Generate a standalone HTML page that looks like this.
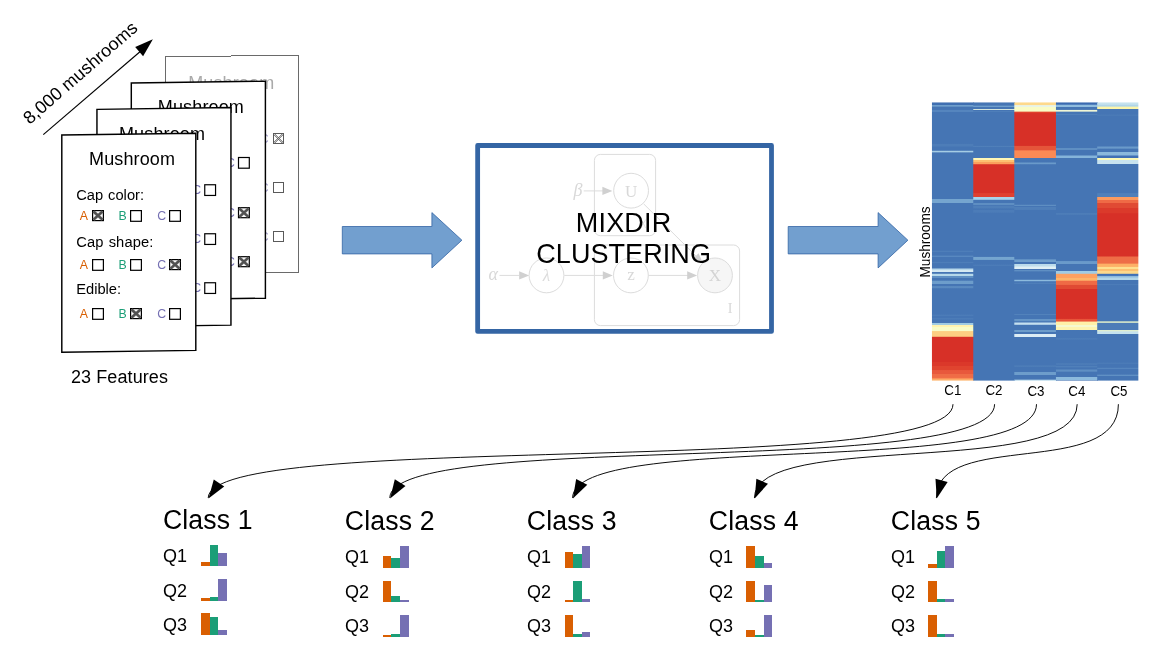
<!DOCTYPE html>
<html lang="en"><head><meta charset="utf-8"><title>MixDir clustering overview</title>
<style>
html,body{margin:0;padding:0;background:#fff;}
body{width:1154px;height:651px;overflow:hidden;}
svg{display:block;will-change:transform;}
text{font-family:"Liberation Sans",sans-serif;}
.ser{font-family:"Liberation Serif","DejaVu Serif",serif;}
</style></head><body>
<svg width="1154" height="651" viewBox="0 0 1154 651">
<rect width="1154" height="651" fill="#fff"/>
<g id="cards">
<g><path d="M165.50 56.50L298.50 55.50L298.50 272.50L165.50 273.50Z" fill="#fff" stroke="#6a6a6a" stroke-width="1.0" stroke-linejoin="miter" shape-rendering="crispEdges"/><text font-size="18" text-anchor="middle" fill="#aaaaaa" letter-spacing="0.13" x="231.25" y="88.75">Mushroom</text><text font-size="14.7" fill="#aaaaaa" word-spacing="0.9" x="179.85" y="122.65">Cap color:</text><text x="182.25" y="143.15" font-size="12.3" fill="#d95f02" opacity="0.7">A</text><rect x="196.5" y="133.5" width="10" height="10" fill="#fff" stroke="#5a5a5a" stroke-width="1" shape-rendering="crispEdges"/><text x="220.85" y="143.15" font-size="12.3" fill="#1b9e77" opacity="0.7">B</text><rect x="234.5" y="133.5" width="10" height="10" fill="#fff" stroke="#5a5a5a" stroke-width="1" shape-rendering="crispEdges"/><text x="259.65" y="143.15" font-size="12.3" fill="#7570b3" opacity="0.7">C</text><rect x="273.5" y="133.5" width="10" height="10" fill="#fff" stroke="#5a5a5a" stroke-width="1" shape-rendering="crispEdges"/><path d="M274.0 134.7L282.3 143.0M274.7 134.0L283.0 142.3M283.0 134.7L274.7 143.0M282.3 134.0L274.0 142.3" stroke="#5a5a5a" stroke-width="1.0" fill="none"/><path d="M274.5 134.5L282.5 142.5M282.5 134.5L274.5 142.5" stroke="#c4c4c4" stroke-width="0.9" fill="none"/><text font-size="14.7" fill="#aaaaaa" letter-spacing="0.13" word-spacing="0.9" x="179.85" y="169.25">Cap shape:</text><text x="182.25" y="192.15" font-size="12.3" fill="#d95f02" opacity="0.7">A</text><rect x="196.5" y="182.5" width="10" height="10" fill="#fff" stroke="#5a5a5a" stroke-width="1" shape-rendering="crispEdges"/><text x="220.85" y="192.15" font-size="12.3" fill="#1b9e77" opacity="0.7">B</text><rect x="234.5" y="182.5" width="10" height="10" fill="#fff" stroke="#5a5a5a" stroke-width="1" shape-rendering="crispEdges"/><text x="259.65" y="192.15" font-size="12.3" fill="#7570b3" opacity="0.7">C</text><rect x="273.5" y="182.5" width="10" height="10" fill="#fff" stroke="#5a5a5a" stroke-width="1" shape-rendering="crispEdges"/><text font-size="14.7" fill="#aaaaaa" word-spacing="0.9" x="179.85" y="216.55">Edible:</text><text x="182.25" y="241.15" font-size="12.3" fill="#d95f02" opacity="0.7">A</text><rect x="196.5" y="231.5" width="10" height="10" fill="#fff" stroke="#5a5a5a" stroke-width="1" shape-rendering="crispEdges"/><text x="220.85" y="241.15" font-size="12.3" fill="#1b9e77" opacity="0.7">B</text><rect x="234.5" y="231.5" width="10" height="10" fill="#fff" stroke="#5a5a5a" stroke-width="1" shape-rendering="crispEdges"/><text x="259.65" y="241.15" font-size="12.3" fill="#7570b3" opacity="0.7">C</text><rect x="273.5" y="231.5" width="10" height="10" fill="#fff" stroke="#5a5a5a" stroke-width="1" shape-rendering="crispEdges"/></g>
<g><path d="M131.30 83.00L265.40 81.20L265.40 298.20L131.30 300.00Z" fill="#fff" stroke="#000" stroke-width="1.45" stroke-linejoin="miter"/><text font-size="18" text-anchor="middle" fill="#000" letter-spacing="0.13" x="200.90" y="112.90">Mushroom</text><text font-size="14.7" fill="#000" word-spacing="0.9" x="145.10" y="147.80">Cap color:</text><text x="148.70" y="166.50" font-size="12.3" fill="#d95f02">A</text><rect x="161.50" y="157.50" width="10.8" height="10.7" fill="#fff" stroke="#000" stroke-width="1.2"/><text x="187.30" y="166.50" font-size="12.3" fill="#1b9e77">B</text><rect x="199.50" y="157.50" width="10.8" height="10.7" fill="#fff" stroke="#000" stroke-width="1.2"/><text x="226.10" y="166.50" font-size="12.3" fill="#7570b3">C</text><rect x="238.50" y="157.50" width="10.8" height="10.7" fill="#fff" stroke="#000" stroke-width="1.2"/><text font-size="14.7" fill="#000" letter-spacing="0.13" word-spacing="0.9" x="145.10" y="194.40">Cap shape:</text><text x="148.70" y="216.70" font-size="12.3" fill="#d95f02">A</text><rect x="161.50" y="207.70" width="10.8" height="10.7" fill="#fff" stroke="#000" stroke-width="1.2"/><text x="187.30" y="216.70" font-size="12.3" fill="#1b9e77">B</text><rect x="199.50" y="207.70" width="10.8" height="10.7" fill="#fff" stroke="#000" stroke-width="1.2"/><text x="226.10" y="216.70" font-size="12.3" fill="#7570b3">C</text><rect x="238.50" y="207.70" width="10.8" height="10.0" fill="#fff" stroke="#000" stroke-width="1.2"/><path d="M239.40 208.60L248.40 216.80M248.40 208.60L239.40 216.80" stroke="#2c2c2c" stroke-width="2.5" fill="none"/><path d="M239.40 208.60L248.40 216.80M248.40 208.60L239.40 216.80" stroke="#8a8a8a" stroke-width="3.4" fill="none" opacity="0.4"/><text font-size="14.7" fill="#000" word-spacing="0.9" x="145.10" y="241.70">Edible:</text><text x="148.70" y="265.70" font-size="12.3" fill="#d95f02">A</text><rect x="161.50" y="256.70" width="10.8" height="10.7" fill="#fff" stroke="#000" stroke-width="1.2"/><text x="187.30" y="265.70" font-size="12.3" fill="#1b9e77">B</text><rect x="199.50" y="256.70" width="10.8" height="10.7" fill="#fff" stroke="#000" stroke-width="1.2"/><text x="226.10" y="265.70" font-size="12.3" fill="#7570b3">C</text><rect x="238.50" y="256.70" width="10.8" height="10.0" fill="#fff" stroke="#000" stroke-width="1.2"/><path d="M239.40 257.60L248.40 265.80M248.40 257.60L239.40 265.80" stroke="#2c2c2c" stroke-width="2.5" fill="none"/><path d="M239.40 257.60L248.40 265.80M248.40 257.60L239.40 265.80" stroke="#8a8a8a" stroke-width="3.4" fill="none" opacity="0.4"/></g>
<g><path d="M96.95 109.40L230.95 107.60L230.95 325.10L96.95 326.90Z" fill="#fff" stroke="#000" stroke-width="1.45" stroke-linejoin="miter"/><text font-size="18" text-anchor="middle" fill="#000" letter-spacing="0.13" x="162.05" y="139.75">Mushroom</text><text font-size="14.7" fill="#000" word-spacing="0.9" x="111.35" y="174.65">Cap color:</text><text x="114.95" y="193.75" font-size="12.3" fill="#d95f02">A</text><rect x="127.75" y="184.75" width="10.8" height="10.7" fill="#fff" stroke="#000" stroke-width="1.2"/><text x="153.55" y="193.75" font-size="12.3" fill="#1b9e77">B</text><rect x="165.75" y="184.75" width="10.8" height="10.7" fill="#fff" stroke="#000" stroke-width="1.2"/><text x="192.35" y="193.75" font-size="12.3" fill="#7570b3">C</text><rect x="204.75" y="184.75" width="10.8" height="10.7" fill="#fff" stroke="#000" stroke-width="1.2"/><text font-size="14.7" fill="#000" letter-spacing="0.13" word-spacing="0.9" x="111.35" y="221.25">Cap shape:</text><text x="114.95" y="242.75" font-size="12.3" fill="#d95f02">A</text><rect x="127.75" y="233.75" width="10.8" height="10.7" fill="#fff" stroke="#000" stroke-width="1.2"/><text x="153.55" y="242.75" font-size="12.3" fill="#1b9e77">B</text><rect x="165.75" y="233.75" width="10.8" height="10.7" fill="#fff" stroke="#000" stroke-width="1.2"/><text x="192.35" y="242.75" font-size="12.3" fill="#7570b3">C</text><rect x="204.75" y="233.75" width="10.8" height="10.7" fill="#fff" stroke="#000" stroke-width="1.2"/><text font-size="14.7" fill="#000" word-spacing="0.9" x="111.35" y="268.55">Edible:</text><text x="114.95" y="291.75" font-size="12.3" fill="#d95f02">A</text><rect x="127.75" y="282.75" width="10.8" height="10.7" fill="#fff" stroke="#000" stroke-width="1.2"/><text x="153.55" y="291.75" font-size="12.3" fill="#1b9e77">B</text><rect x="165.75" y="282.75" width="10.8" height="10.7" fill="#fff" stroke="#000" stroke-width="1.2"/><text x="192.35" y="291.75" font-size="12.3" fill="#7570b3">C</text><rect x="204.75" y="282.75" width="10.8" height="10.7" fill="#fff" stroke="#000" stroke-width="1.2"/></g>
<g><path d="M61.80 135.00L195.80 133.20L195.80 350.40L61.80 352.20Z" fill="#fff" stroke="#000" stroke-width="1.45" stroke-linejoin="miter"/><text font-size="18" text-anchor="middle" fill="#000" letter-spacing="0.13" x="132.10" y="165.20">Mushroom</text><text font-size="14.7" fill="#000" word-spacing="0.9" x="76.20" y="200.10">Cap color:</text><text x="79.80" y="219.60" font-size="12.3" fill="#d95f02">A</text><rect x="92.60" y="210.60" width="10.8" height="10.0" fill="#fff" stroke="#000" stroke-width="1.2"/><path d="M93.50 211.50L102.50 219.70M102.50 211.50L93.50 219.70" stroke="#2c2c2c" stroke-width="2.5" fill="none"/><path d="M93.50 211.50L102.50 219.70M102.50 211.50L93.50 219.70" stroke="#8a8a8a" stroke-width="3.4" fill="none" opacity="0.4"/><text x="118.40" y="219.60" font-size="12.3" fill="#1b9e77">B</text><rect x="130.60" y="210.60" width="10.8" height="10.7" fill="#fff" stroke="#000" stroke-width="1.2"/><text x="157.20" y="219.60" font-size="12.3" fill="#7570b3">C</text><rect x="169.60" y="210.60" width="10.8" height="10.7" fill="#fff" stroke="#000" stroke-width="1.2"/><text font-size="14.7" fill="#000" letter-spacing="0.13" word-spacing="0.9" x="76.20" y="246.70">Cap shape:</text><text x="79.80" y="268.60" font-size="12.3" fill="#d95f02">A</text><rect x="92.60" y="259.60" width="10.8" height="10.7" fill="#fff" stroke="#000" stroke-width="1.2"/><text x="118.40" y="268.60" font-size="12.3" fill="#1b9e77">B</text><rect x="130.60" y="259.60" width="10.8" height="10.7" fill="#fff" stroke="#000" stroke-width="1.2"/><text x="157.20" y="268.60" font-size="12.3" fill="#7570b3">C</text><rect x="169.60" y="259.60" width="10.8" height="10.0" fill="#fff" stroke="#000" stroke-width="1.2"/><path d="M170.50 260.50L179.50 268.70M179.50 260.50L170.50 268.70" stroke="#2c2c2c" stroke-width="2.5" fill="none"/><path d="M170.50 260.50L179.50 268.70M179.50 260.50L170.50 268.70" stroke="#8a8a8a" stroke-width="3.4" fill="none" opacity="0.4"/><text font-size="14.7" fill="#000" word-spacing="0.9" x="76.20" y="294.00">Edible:</text><text x="79.80" y="317.60" font-size="12.3" fill="#d95f02">A</text><rect x="92.60" y="308.60" width="10.8" height="10.7" fill="#fff" stroke="#000" stroke-width="1.2"/><text x="118.40" y="317.60" font-size="12.3" fill="#1b9e77">B</text><rect x="130.60" y="308.60" width="10.8" height="10.0" fill="#fff" stroke="#000" stroke-width="1.2"/><path d="M131.50 309.50L140.50 317.70M140.50 309.50L131.50 317.70" stroke="#2c2c2c" stroke-width="2.5" fill="none"/><path d="M131.50 309.50L140.50 317.70M140.50 309.50L131.50 317.70" stroke="#8a8a8a" stroke-width="3.4" fill="none" opacity="0.4"/><text x="157.20" y="317.60" font-size="12.3" fill="#7570b3">C</text><rect x="169.60" y="308.60" width="10.8" height="10.7" fill="#fff" stroke="#000" stroke-width="1.2"/></g>
</g>
<text font-size="18" letter-spacing="0.1" x="70.90" y="383.30">23 Features</text>
<path d="M43.3 134.6L142 50" stroke="#000" stroke-width="1.15" fill="none"/>
<path d="M152.9 39.2L135.2 47.1L143.1 56.2Z" fill="#000"/>
<text font-size="18" letter-spacing="0.05" transform="translate(29.80 125.00) rotate(-41.2)">8,000 mushrooms</text>
<path d="M342.3 226.5H431.9V212.6L461.9 240.2L431.9 267.9V253.9H342.3Z" fill="#729fcf" stroke="#3465a4" stroke-width="0.8" stroke-linejoin="miter"/>
<path d="M788.2 226.5H878.1V212.6L907.9 240.2L878.1 267.9V253.9H788.2Z" fill="#729fcf" stroke="#3465a4" stroke-width="0.8" stroke-linejoin="miter"/>
<g id="model" fill="none" stroke="#dcdcdc" stroke-width="1">
<rect x="594.4" y="154.4" width="61.2" height="81.3" rx="6" ry="6"/>
<rect x="594.4" y="245.0" width="145.2" height="80.6" rx="6" ry="6"/>
<circle cx="631.1" cy="190.7" r="17.4"/>
<circle cx="546.5" cy="275.4" r="17.4"/>
<circle cx="630.9" cy="275.4" r="17.4"/>
<circle cx="715.0" cy="275.4" r="17.4" fill="#f6f6f6"/>
<path d="M583.7 190.9H603M499.5 275.4H519M564.3 275.4H603M648.4 275.4H688M643.6 203.8L698 258"/>
</g>
<g fill="#d0d0d0">
<path d="M612.4 190.9L602.4 186.70000000000002V195.1Z"/>
<path d="M529.2 275.4L519.2 271.2V279.59999999999997Z"/>
<path d="M612.8 275.4L602.8 271.2V279.59999999999997Z"/>
<path d="M697.2 275.4L687.2 271.2V279.59999999999997Z"/>
<path d="M702.8 263.2L692.6 259.2L698.6 253.2Z"/>
</g>
<text font-size="18" text-anchor="middle" fill="#d8d8d8" class="ser" font-style="italic" x="578.00" y="196.00">β</text>
<text font-size="18" text-anchor="middle" fill="#d8d8d8" class="ser" font-style="italic" x="493.30" y="280.00">α</text>
<text font-size="17" text-anchor="middle" fill="#dcdcdc" class="ser" font-style="italic" x="546.50" y="281.00">λ</text>
<text font-size="17" text-anchor="middle" fill="#d8d8d8" class="ser" x="631.10" y="196.60">U</text>
<text font-size="17" text-anchor="middle" fill="#d8d8d8" class="ser" x="630.90" y="280.00">z</text>
<text font-size="17" text-anchor="middle" fill="#d4d4d4" class="ser" x="715.00" y="281.40">X</text>
<text font-size="14" text-anchor="middle" fill="#d8d8d8" class="ser" x="730.00" y="313.00">I</text>
<path d="M641.2 218.6L645.6 228M645.8 219.4L641 227.6" stroke="#e2e2e2" stroke-width="0.9" fill="none"/>
<rect x="477.65" y="145.5" width="293.85" height="185.95" fill="none" stroke="#3465a4" stroke-width="4.8" stroke-linejoin="round"/>
<text font-size="27" text-anchor="middle" letter-spacing="0.2" transform="translate(623.60 232.30) scale(1 1.03)">MIXDIR</text>
<text font-size="27" text-anchor="middle" letter-spacing="0.08" transform="translate(623.60 263.30) scale(1 1.03)">CLUSTERING</text>
<defs><linearGradient id="hg0" x1="0" y1="0" x2="0" y2="1"><stop offset="0.00000" stop-color="#3f6fb1"/><stop offset="0.00759" stop-color="#3f6fb1"/><stop offset="0.01010" stop-color="#6f9fcc"/><stop offset="0.01370" stop-color="#6f9fcc"/><stop offset="0.01621" stop-color="#4575b4"/><stop offset="0.02520" stop-color="#4575b4"/><stop offset="0.02772" stop-color="#5585be"/><stop offset="0.03275" stop-color="#5585be"/><stop offset="0.03527" stop-color="#4575b4"/><stop offset="0.14743" stop-color="#4575b4"/><stop offset="0.14995" stop-color="#4d7db8"/><stop offset="0.15714" stop-color="#4d7db8"/><stop offset="0.15966" stop-color="#4575b4"/><stop offset="0.17224" stop-color="#4575b4"/><stop offset="0.17476" stop-color="#a5cde4"/><stop offset="0.17835" stop-color="#a5cde4"/><stop offset="0.18087" stop-color="#4575b4"/><stop offset="0.34624" stop-color="#4575b4"/><stop offset="0.34876" stop-color="#75a5cf"/><stop offset="0.35990" stop-color="#75a5cf"/><stop offset="0.36242" stop-color="#4575b4"/><stop offset="0.53174" stop-color="#4575b4"/><stop offset="0.53426" stop-color="#4e7eb9"/><stop offset="0.53678" stop-color="#4e7eb9"/><stop offset="0.53929" stop-color="#4575b4"/><stop offset="0.54936" stop-color="#4575b4"/><stop offset="0.55188" stop-color="#5888c0"/><stop offset="0.55439" stop-color="#5888c0"/><stop offset="0.55691" stop-color="#4575b4"/><stop offset="0.57165" stop-color="#4575b4"/><stop offset="0.57417" stop-color="#4e7eb9"/><stop offset="0.57668" stop-color="#4e7eb9"/><stop offset="0.57920" stop-color="#4575b4"/><stop offset="0.59574" stop-color="#4575b4"/><stop offset="0.59825" stop-color="#b8d8ea"/><stop offset="0.60185" stop-color="#b8d8ea"/><stop offset="0.60436" stop-color="#d5e9f2"/><stop offset="0.60796" stop-color="#d5e9f2"/><stop offset="0.61048" stop-color="#4575b4"/><stop offset="0.61443" stop-color="#4575b4"/><stop offset="0.61695" stop-color="#b5d8ea"/><stop offset="0.62306" stop-color="#b5d8ea"/><stop offset="0.62558" stop-color="#5f8fc3"/><stop offset="0.62953" stop-color="#5f8fc3"/><stop offset="0.63205" stop-color="#4575b4"/><stop offset="0.63942" stop-color="#4575b4"/><stop offset="0.64193" stop-color="#6d9dcb"/><stop offset="0.65182" stop-color="#6d9dcb"/><stop offset="0.65434" stop-color="#4575b4"/><stop offset="0.65937" stop-color="#4575b4"/><stop offset="0.66189" stop-color="#5a8ac0"/><stop offset="0.66692" stop-color="#5a8ac0"/><stop offset="0.66943" stop-color="#4575b4"/><stop offset="0.76147" stop-color="#4575b4"/><stop offset="0.76398" stop-color="#4c7cb8"/><stop offset="0.76650" stop-color="#4c7cb8"/><stop offset="0.76902" stop-color="#4575b4"/><stop offset="0.77369" stop-color="#4575b4"/><stop offset="0.77621" stop-color="#4c7cb8"/><stop offset="0.77908" stop-color="#4c7cb8"/><stop offset="0.78160" stop-color="#4575b4"/><stop offset="0.79131" stop-color="#4575b4"/><stop offset="0.79382" stop-color="#9fcbe3"/><stop offset="0.79886" stop-color="#9fcbe3"/><stop offset="0.80137" stop-color="#fff3b0"/><stop offset="0.80641" stop-color="#fff3b0"/><stop offset="0.80892" stop-color="#f8fcc8"/><stop offset="0.82115" stop-color="#f8fcc8"/><stop offset="0.82366" stop-color="#fdce82"/><stop offset="0.84092" stop-color="#fdce82"/><stop offset="0.84344" stop-color="#d73027"/><stop offset="0.93151" stop-color="#d73027"/><stop offset="0.93403" stop-color="#db382a"/><stop offset="0.94625" stop-color="#db382a"/><stop offset="0.94877" stop-color="#e0442f"/><stop offset="0.96135" stop-color="#e0442f"/><stop offset="0.96387" stop-color="#e8583c"/><stop offset="0.97501" stop-color="#e8583c"/><stop offset="0.97753" stop-color="#ef6c46"/><stop offset="0.98868" stop-color="#ef6c46"/><stop offset="0.99119" stop-color="#fa9058"/><stop offset="0.99407" stop-color="#fa9058"/><stop offset="0.99658" stop-color="#fdb56e"/><stop offset="1.00000" stop-color="#fdb56e"/></linearGradient><linearGradient id="hg1" x1="0" y1="0" x2="0" y2="1"><stop offset="0.00000" stop-color="#4575b4"/><stop offset="0.01010" stop-color="#4575b4"/><stop offset="0.01262" stop-color="#6f9fcc"/><stop offset="0.01514" stop-color="#6f9fcc"/><stop offset="0.01765" stop-color="#4575b4"/><stop offset="0.02197" stop-color="#4575b4"/><stop offset="0.02448" stop-color="#d5e6dc"/><stop offset="0.02628" stop-color="#d5e6dc"/><stop offset="0.02880" stop-color="#4575b4"/><stop offset="0.03023" stop-color="#4575b4"/><stop offset="0.03275" stop-color="#4f7fb9"/><stop offset="0.03275" stop-color="#4f7fb9"/><stop offset="0.03527" stop-color="#4575b4"/><stop offset="0.15462" stop-color="#4575b4"/><stop offset="0.15714" stop-color="#5080ba"/><stop offset="0.15822" stop-color="#5080ba"/><stop offset="0.16073" stop-color="#4575b4"/><stop offset="0.19812" stop-color="#4575b4"/><stop offset="0.20064" stop-color="#fff6b5"/><stop offset="0.20603" stop-color="#fff6b5"/><stop offset="0.20855" stop-color="#fdc070"/><stop offset="0.21304" stop-color="#fdc070"/><stop offset="0.21556" stop-color="#fba05c"/><stop offset="0.22113" stop-color="#fba05c"/><stop offset="0.22365" stop-color="#d73027"/><stop offset="0.32503" stop-color="#d73027"/><stop offset="0.32755" stop-color="#e04030"/><stop offset="0.33833" stop-color="#e04030"/><stop offset="0.34085" stop-color="#a8d4ec"/><stop offset="0.34840" stop-color="#a8d4ec"/><stop offset="0.35091" stop-color="#4575b4"/><stop offset="0.35990" stop-color="#4575b4"/><stop offset="0.36242" stop-color="#5e8ec2"/><stop offset="0.36745" stop-color="#5e8ec2"/><stop offset="0.36979" stop-color="#4575b4"/><stop offset="0.36979" stop-color="#4575b4"/><stop offset="0.37212" stop-color="#4f7fb9"/><stop offset="0.37967" stop-color="#4f7fb9"/><stop offset="0.38219" stop-color="#4575b4"/><stop offset="0.38471" stop-color="#4575b4"/><stop offset="0.38722" stop-color="#4c7cb8"/><stop offset="0.39477" stop-color="#4c7cb8"/><stop offset="0.39729" stop-color="#4575b4"/><stop offset="0.55367" stop-color="#4575b4"/><stop offset="0.55619" stop-color="#75a5cf"/><stop offset="0.56446" stop-color="#75a5cf"/><stop offset="0.56698" stop-color="#4575b4"/><stop offset="0.58172" stop-color="#4575b4"/><stop offset="0.58423" stop-color="#4c7cb8"/><stop offset="0.58675" stop-color="#4c7cb8"/><stop offset="0.58927" stop-color="#4575b4"/><stop offset="1.00000" stop-color="#4575b4"/></linearGradient><linearGradient id="hg2" x1="0" y1="0" x2="0" y2="1"><stop offset="0.00000" stop-color="#fed98b"/><stop offset="0.00866" stop-color="#fed98b"/><stop offset="0.01118" stop-color="#e8f4e8"/><stop offset="0.01478" stop-color="#e8f4e8"/><stop offset="0.01729" stop-color="#f9fcc5"/><stop offset="0.03167" stop-color="#f9fcc5"/><stop offset="0.03419" stop-color="#e0402c"/><stop offset="0.03742" stop-color="#e0402c"/><stop offset="0.03994" stop-color="#d73027"/><stop offset="0.15462" stop-color="#d73027"/><stop offset="0.15714" stop-color="#e5553a"/><stop offset="0.17116" stop-color="#e5553a"/><stop offset="0.17368" stop-color="#fa8a55"/><stop offset="0.19812" stop-color="#fa8a55"/><stop offset="0.20064" stop-color="#4575b4"/><stop offset="0.21466" stop-color="#4575b4"/><stop offset="0.21718" stop-color="#6a9aca"/><stop offset="0.22113" stop-color="#6a9aca"/><stop offset="0.22365" stop-color="#4575b4"/><stop offset="0.36637" stop-color="#4575b4"/><stop offset="0.36889" stop-color="#5e8ec2"/><stop offset="0.37140" stop-color="#5e8ec2"/><stop offset="0.37392" stop-color="#4575b4"/><stop offset="0.37464" stop-color="#4575b4"/><stop offset="0.37716" stop-color="#4f7fb9"/><stop offset="0.38471" stop-color="#4f7fb9"/><stop offset="0.38722" stop-color="#4575b4"/><stop offset="0.56302" stop-color="#4575b4"/><stop offset="0.56554" stop-color="#6d9dcb"/><stop offset="0.57201" stop-color="#6d9dcb"/><stop offset="0.57453" stop-color="#4575b4"/><stop offset="0.57956" stop-color="#4575b4"/><stop offset="0.58208" stop-color="#bcdcec"/><stop offset="0.58855" stop-color="#bcdcec"/><stop offset="0.59106" stop-color="#e0f0f5"/><stop offset="0.59717" stop-color="#e0f0f5"/><stop offset="0.59969" stop-color="#4575b4"/><stop offset="0.60113" stop-color="#4575b4"/><stop offset="0.60365" stop-color="#5f8fc3"/><stop offset="0.60616" stop-color="#5f8fc3"/><stop offset="0.60868" stop-color="#4575b4"/><stop offset="0.63600" stop-color="#4575b4"/><stop offset="0.63852" stop-color="#8cbadd"/><stop offset="0.64175" stop-color="#8cbadd"/><stop offset="0.64427" stop-color="#4575b4"/><stop offset="0.64679" stop-color="#4575b4"/><stop offset="0.64930" stop-color="#4f7fb9"/><stop offset="0.65074" stop-color="#4f7fb9"/><stop offset="0.65326" stop-color="#4575b4"/><stop offset="0.75895" stop-color="#4575b4"/><stop offset="0.76147" stop-color="#5282bb"/><stop offset="0.76255" stop-color="#5282bb"/><stop offset="0.76506" stop-color="#4575b4"/><stop offset="0.77747" stop-color="#4575b4"/><stop offset="0.77998" stop-color="#6696c7"/><stop offset="0.78556" stop-color="#6696c7"/><stop offset="0.78807" stop-color="#4575b4"/><stop offset="0.78987" stop-color="#4575b4"/><stop offset="0.79239" stop-color="#c5e0ef"/><stop offset="0.79778" stop-color="#c5e0ef"/><stop offset="0.80029" stop-color="#4575b4"/><stop offset="0.81737" stop-color="#4575b4"/><stop offset="0.81989" stop-color="#6d9dcb"/><stop offset="0.82438" stop-color="#6d9dcb"/><stop offset="0.82690" stop-color="#4575b4"/><stop offset="0.83157" stop-color="#4575b4"/><stop offset="0.83409" stop-color="#dcedf5"/><stop offset="0.84200" stop-color="#dcedf5"/><stop offset="0.84451" stop-color="#4575b4"/><stop offset="0.94410" stop-color="#4575b4"/><stop offset="0.94661" stop-color="#4d7db8"/><stop offset="0.94913" stop-color="#4d7db8"/><stop offset="0.95165" stop-color="#4575b4"/><stop offset="0.96782" stop-color="#4575b4"/><stop offset="0.97034" stop-color="#6d9dcb"/><stop offset="0.97897" stop-color="#6d9dcb"/><stop offset="0.98149" stop-color="#4575b4"/><stop offset="0.99515" stop-color="#4575b4"/><stop offset="0.99766" stop-color="#b0d5e8"/><stop offset="1.00000" stop-color="#b0d5e8"/></linearGradient><linearGradient id="hg3" x1="0" y1="0" x2="0" y2="1"><stop offset="0.00000" stop-color="#3a6ab0"/><stop offset="0.00669" stop-color="#3a6ab0"/><stop offset="0.00920" stop-color="#8fbcde"/><stop offset="0.01514" stop-color="#8fbcde"/><stop offset="0.01765" stop-color="#4575b4"/><stop offset="0.02520" stop-color="#4575b4"/><stop offset="0.02772" stop-color="#f0f6d5"/><stop offset="0.03167" stop-color="#f0f6d5"/><stop offset="0.03419" stop-color="#4575b4"/><stop offset="0.03994" stop-color="#4575b4"/><stop offset="0.04246" stop-color="#5080ba"/><stop offset="0.04354" stop-color="#5080ba"/><stop offset="0.04605" stop-color="#4575b4"/><stop offset="0.16217" stop-color="#4575b4"/><stop offset="0.16469" stop-color="#5f8fc3"/><stop offset="0.16972" stop-color="#5f8fc3"/><stop offset="0.17224" stop-color="#4575b4"/><stop offset="0.18950" stop-color="#4575b4"/><stop offset="0.19201" stop-color="#85b4da"/><stop offset="0.19812" stop-color="#85b4da"/><stop offset="0.20064" stop-color="#4575b4"/><stop offset="0.39621" stop-color="#4575b4"/><stop offset="0.39873" stop-color="#4d7db8"/><stop offset="0.40232" stop-color="#4d7db8"/><stop offset="0.40484" stop-color="#4575b4"/><stop offset="0.56949" stop-color="#4575b4"/><stop offset="0.57201" stop-color="#6a9aca"/><stop offset="0.57956" stop-color="#6a9aca"/><stop offset="0.58208" stop-color="#4575b4"/><stop offset="0.60436" stop-color="#4575b4"/><stop offset="0.60688" stop-color="#a0cbe4"/><stop offset="0.61443" stop-color="#a0cbe4"/><stop offset="0.61695" stop-color="#fda060"/><stop offset="0.62953" stop-color="#fda060"/><stop offset="0.63205" stop-color="#fdb56a"/><stop offset="0.63942" stop-color="#fdb56a"/><stop offset="0.64193" stop-color="#ef6a45"/><stop offset="0.65434" stop-color="#ef6a45"/><stop offset="0.65685" stop-color="#e04a33"/><stop offset="0.66943" stop-color="#e04a33"/><stop offset="0.67195" stop-color="#d73027"/><stop offset="0.77657" stop-color="#d73027"/><stop offset="0.77908" stop-color="#e8553a"/><stop offset="0.78645" stop-color="#e8553a"/><stop offset="0.78897" stop-color="#fff0a8"/><stop offset="0.79886" stop-color="#fff0a8"/><stop offset="0.80137" stop-color="#f5f9d0"/><stop offset="0.80641" stop-color="#f5f9d0"/><stop offset="0.80892" stop-color="#fdf3b0"/><stop offset="0.81737" stop-color="#fdf3b0"/><stop offset="0.81989" stop-color="#4575b4"/><stop offset="0.84631" stop-color="#4575b4"/><stop offset="0.84883" stop-color="#4c7cb8"/><stop offset="0.85134" stop-color="#4c7cb8"/><stop offset="0.85386" stop-color="#4575b4"/><stop offset="0.93655" stop-color="#4575b4"/><stop offset="0.93906" stop-color="#4d7db8"/><stop offset="0.94158" stop-color="#4d7db8"/><stop offset="0.94410" stop-color="#4575b4"/><stop offset="0.94553" stop-color="#4575b4"/><stop offset="0.94805" stop-color="#5080ba"/><stop offset="0.95129" stop-color="#5080ba"/><stop offset="0.95380" stop-color="#4575b4"/><stop offset="0.95884" stop-color="#4575b4"/><stop offset="0.96135" stop-color="#5f8fc3"/><stop offset="0.96639" stop-color="#5f8fc3"/><stop offset="0.96890" stop-color="#4575b4"/><stop offset="0.98616" stop-color="#4575b4"/><stop offset="0.98868" stop-color="#8cbadd"/><stop offset="0.99623" stop-color="#8cbadd"/><stop offset="0.99874" stop-color="#4575b4"/><stop offset="1.00000" stop-color="#4575b4"/></linearGradient><linearGradient id="hg4" x1="0" y1="0" x2="0" y2="1"><stop offset="0.00000" stop-color="#c5e2ee"/><stop offset="0.00669" stop-color="#c5e2ee"/><stop offset="0.00920" stop-color="#b0d5e8"/><stop offset="0.01370" stop-color="#b0d5e8"/><stop offset="0.01621" stop-color="#fdf5a8"/><stop offset="0.02268" stop-color="#fdf5a8"/><stop offset="0.02520" stop-color="#4575b4"/><stop offset="0.04246" stop-color="#4575b4"/><stop offset="0.04497" stop-color="#4b7bb7"/><stop offset="0.04641" stop-color="#4b7bb7"/><stop offset="0.04893" stop-color="#4575b4"/><stop offset="0.15714" stop-color="#4575b4"/><stop offset="0.15966" stop-color="#6a9aca"/><stop offset="0.16469" stop-color="#6a9aca"/><stop offset="0.16721" stop-color="#4575b4"/><stop offset="0.17727" stop-color="#4575b4"/><stop offset="0.17979" stop-color="#8ab8dc"/><stop offset="0.18950" stop-color="#8ab8dc"/><stop offset="0.19201" stop-color="#4070b5"/><stop offset="0.19812" stop-color="#4070b5"/><stop offset="0.20064" stop-color="#fcf9b5"/><stop offset="0.20603" stop-color="#fcf9b5"/><stop offset="0.20855" stop-color="#c8e3ef"/><stop offset="0.21969" stop-color="#c8e3ef"/><stop offset="0.22221" stop-color="#4575b4"/><stop offset="0.32503" stop-color="#4575b4"/><stop offset="0.32755" stop-color="#5080ba"/><stop offset="0.33833" stop-color="#5080ba"/><stop offset="0.34085" stop-color="#fc9a5e"/><stop offset="0.34983" stop-color="#fc9a5e"/><stop offset="0.35235" stop-color="#ef6a45"/><stop offset="0.35990" stop-color="#ef6a45"/><stop offset="0.36242" stop-color="#e04a33"/><stop offset="0.37824" stop-color="#e04a33"/><stop offset="0.38075" stop-color="#db3a2b"/><stop offset="0.39729" stop-color="#db3a2b"/><stop offset="0.39981" stop-color="#d73027"/><stop offset="0.55260" stop-color="#d73027"/><stop offset="0.55511" stop-color="#ee6d47"/><stop offset="0.57812" stop-color="#ee6d47"/><stop offset="0.58064" stop-color="#fdb066"/><stop offset="0.58962" stop-color="#fdb066"/><stop offset="0.59214" stop-color="#fee090"/><stop offset="0.59717" stop-color="#fee090"/><stop offset="0.59969" stop-color="#fdc070"/><stop offset="0.60472" stop-color="#fdc070"/><stop offset="0.60724" stop-color="#fdd88a"/><stop offset="0.61443" stop-color="#fdd88a"/><stop offset="0.61695" stop-color="#4070b5"/><stop offset="0.62198" stop-color="#4070b5"/><stop offset="0.62450" stop-color="#8cbadd"/><stop offset="0.62809" stop-color="#8cbadd"/><stop offset="0.63061" stop-color="#b0d5e8"/><stop offset="0.63708" stop-color="#b0d5e8"/><stop offset="0.63960" stop-color="#4575b4"/><stop offset="0.65182" stop-color="#4575b4"/><stop offset="0.65434" stop-color="#4c7cb8"/><stop offset="0.65577" stop-color="#4c7cb8"/><stop offset="0.65829" stop-color="#4575b4"/><stop offset="0.78556" stop-color="#4575b4"/><stop offset="0.78807" stop-color="#c8dcc8"/><stop offset="0.79131" stop-color="#c8dcc8"/><stop offset="0.79382" stop-color="#4c7cb8"/><stop offset="0.81647" stop-color="#4c7cb8"/><stop offset="0.81899" stop-color="#e0eed0"/><stop offset="0.82187" stop-color="#e0eed0"/><stop offset="0.82438" stop-color="#c5e2ee"/><stop offset="0.83085" stop-color="#c5e2ee"/><stop offset="0.83337" stop-color="#4575b4"/><stop offset="0.93403" stop-color="#4575b4"/><stop offset="0.93655" stop-color="#4b7bb7"/><stop offset="0.93906" stop-color="#4b7bb7"/><stop offset="0.94158" stop-color="#4575b4"/><stop offset="0.95237" stop-color="#4575b4"/><stop offset="0.95488" stop-color="#5585be"/><stop offset="0.95776" stop-color="#5585be"/><stop offset="0.96027" stop-color="#4575b4"/><stop offset="0.97717" stop-color="#4575b4"/><stop offset="0.97969" stop-color="#6090c4"/><stop offset="0.98220" stop-color="#6090c4"/><stop offset="0.98472" stop-color="#4575b4"/><stop offset="1.00000" stop-color="#4575b4"/></linearGradient></defs><g id="heatmap"><rect x="931.95" y="102.44" width="42.11" height="278.16" fill="url(#hg0)"/><rect x="973.26" y="102.44" width="41.84" height="278.16" fill="url(#hg1)"/><rect x="1014.3" y="102.44" width="42.45" height="278.16" fill="url(#hg2)"/><rect x="1055.95" y="102.44" width="42.05" height="278.16" fill="url(#hg3)"/><rect x="1097.2" y="102.44" width="41.15" height="278.16" fill="url(#hg4)"/></g>
<text font-size="13.6" text-anchor="middle" transform="translate(930.30 242.00) rotate(-90) scale(1 1.1)">Mushrooms</text>
<text font-size="13.33" text-anchor="middle" transform="translate(952.80 394.60) scale(1 1.05)">C1</text>
<text font-size="13.33" text-anchor="middle" transform="translate(993.90 394.60) scale(1 1.05)">C2</text>
<text font-size="13.33" text-anchor="middle" transform="translate(1035.90 395.50) scale(1 1.05)">C3</text>
<text font-size="13.33" text-anchor="middle" transform="translate(1076.80 395.50) scale(1 1.05)">C4</text>
<text font-size="13.33" text-anchor="middle" transform="translate(1118.90 395.70) scale(1 1.05)">C5</text>
<g id="connectors" fill="none" stroke="#000" stroke-width="0.95"><path d="M953.0 404.2C953.0 479.3 208.2 429.5 208.2 498.0"/><path d="M994.6 404.2C994.6 479.3 389.8 429.5 389.8 498.0"/><path d="M1036.5 404.2C1036.5 479.3 572.6 429.5 572.6 498.0"/><path d="M1077.2 404.2C1077.2 479.3 754.4 429.5 754.4 498.0"/><path d="M1118.4 404.2C1118.4 479.3 936.4 429.5 936.4 498.0"/></g><g fill="#000"><path d="M208.50 498.50L213.79 479.39L224.24 486.44Z"/><path d="M390.10 498.50L394.82 479.24L405.47 485.98Z"/><path d="M572.90 498.50L576.16 478.94L587.29 484.86Z"/><path d="M754.70 498.50L756.38 478.74L767.95 483.75Z"/><path d="M936.70 498.50L935.48 478.71L947.65 481.97Z"/></g>
<text font-size="26.67" letter-spacing="0.15" transform="translate(162.90 528.50) scale(1 1.035)">Class 1</text>
<text font-size="18" x="163.00" y="561.60">Q1</text>
<rect x="201" y="562" width="9" height="4" fill="#d95f02" shape-rendering="crispEdges"/>
<rect x="210" y="545" width="8" height="21" fill="#1b9e77" shape-rendering="crispEdges"/>
<rect x="218" y="553" width="9" height="13" fill="#7570b3" shape-rendering="crispEdges"/>
<text font-size="18" x="163.00" y="596.80">Q2</text>
<rect x="201" y="598" width="9" height="3" fill="#d95f02" shape-rendering="crispEdges"/>
<rect x="210" y="597" width="8" height="4" fill="#1b9e77" shape-rendering="crispEdges"/>
<rect x="218" y="579" width="9" height="22" fill="#7570b3" shape-rendering="crispEdges"/>
<text font-size="18" x="163.00" y="631.00">Q3</text>
<rect x="201" y="613" width="9" height="22" fill="#d95f02" shape-rendering="crispEdges"/>
<rect x="210" y="617" width="8" height="18" fill="#1b9e77" shape-rendering="crispEdges"/>
<rect x="218" y="630" width="9" height="5" fill="#7570b3" shape-rendering="crispEdges"/>
<text font-size="26.67" letter-spacing="0.15" transform="translate(344.80 529.70) scale(1 1.035)">Class 2</text>
<text font-size="18" x="344.90" y="563.30">Q1</text>
<rect x="383" y="556" width="8" height="12" fill="#d95f02" shape-rendering="crispEdges"/>
<rect x="391" y="558" width="9" height="10" fill="#1b9e77" shape-rendering="crispEdges"/>
<rect x="400" y="546" width="9" height="22" fill="#7570b3" shape-rendering="crispEdges"/>
<text font-size="18" x="344.90" y="598.00">Q2</text>
<rect x="383" y="581" width="8" height="21" fill="#d95f02" shape-rendering="crispEdges"/>
<rect x="391" y="596" width="9" height="6" fill="#1b9e77" shape-rendering="crispEdges"/>
<rect x="400" y="600" width="9" height="2" fill="#7570b3" shape-rendering="crispEdges"/>
<text font-size="18" x="344.90" y="632.00">Q3</text>
<rect x="383" y="635" width="8" height="2" fill="#d95f02" shape-rendering="crispEdges"/>
<rect x="391" y="634" width="9" height="3" fill="#1b9e77" shape-rendering="crispEdges"/>
<rect x="400" y="615" width="9" height="22" fill="#7570b3" shape-rendering="crispEdges"/>
<text font-size="26.67" letter-spacing="0.15" transform="translate(526.80 529.70) scale(1 1.035)">Class 3</text>
<text font-size="18" x="526.90" y="563.30">Q1</text>
<rect x="565" y="552" width="8" height="16" fill="#d95f02" shape-rendering="crispEdges"/>
<rect x="573" y="554" width="9" height="14" fill="#1b9e77" shape-rendering="crispEdges"/>
<rect x="582" y="546" width="8" height="22" fill="#7570b3" shape-rendering="crispEdges"/>
<text font-size="18" x="526.90" y="598.00">Q2</text>
<rect x="565" y="600" width="8" height="2" fill="#d95f02" shape-rendering="crispEdges"/>
<rect x="573" y="581" width="9" height="21" fill="#1b9e77" shape-rendering="crispEdges"/>
<rect x="582" y="599" width="8" height="3" fill="#7570b3" shape-rendering="crispEdges"/>
<text font-size="18" x="526.90" y="632.00">Q3</text>
<rect x="565" y="615" width="8" height="22" fill="#d95f02" shape-rendering="crispEdges"/>
<rect x="573" y="634" width="9" height="3" fill="#1b9e77" shape-rendering="crispEdges"/>
<rect x="582" y="632" width="8" height="5" fill="#7570b3" shape-rendering="crispEdges"/>
<text font-size="26.67" letter-spacing="0.15" transform="translate(708.80 529.70) scale(1 1.035)">Class 4</text>
<text font-size="18" x="708.90" y="563.30">Q1</text>
<rect x="746" y="546" width="9" height="22" fill="#d95f02" shape-rendering="crispEdges"/>
<rect x="755" y="556" width="9" height="12" fill="#1b9e77" shape-rendering="crispEdges"/>
<rect x="764" y="563" width="8" height="5" fill="#7570b3" shape-rendering="crispEdges"/>
<text font-size="18" x="708.90" y="598.00">Q2</text>
<rect x="746" y="581" width="9" height="21" fill="#d95f02" shape-rendering="crispEdges"/>
<rect x="755" y="600" width="9" height="2" fill="#1b9e77" shape-rendering="crispEdges"/>
<rect x="764" y="585" width="8" height="17" fill="#7570b3" shape-rendering="crispEdges"/>
<text font-size="18" x="708.90" y="632.00">Q3</text>
<rect x="746" y="630" width="9" height="7" fill="#d95f02" shape-rendering="crispEdges"/>
<rect x="755" y="635" width="9" height="2" fill="#1b9e77" shape-rendering="crispEdges"/>
<rect x="764" y="615" width="8" height="22" fill="#7570b3" shape-rendering="crispEdges"/>
<text font-size="26.67" letter-spacing="0.15" transform="translate(890.80 529.70) scale(1 1.035)">Class 5</text>
<text font-size="18" x="890.90" y="563.30">Q1</text>
<rect x="928" y="564" width="9" height="4" fill="#d95f02" shape-rendering="crispEdges"/>
<rect x="937" y="551" width="8" height="17" fill="#1b9e77" shape-rendering="crispEdges"/>
<rect x="945" y="546" width="9" height="22" fill="#7570b3" shape-rendering="crispEdges"/>
<text font-size="18" x="890.90" y="598.00">Q2</text>
<rect x="928" y="581" width="9" height="21" fill="#d95f02" shape-rendering="crispEdges"/>
<rect x="937" y="599" width="8" height="3" fill="#1b9e77" shape-rendering="crispEdges"/>
<rect x="945" y="599" width="9" height="3" fill="#7570b3" shape-rendering="crispEdges"/>
<text font-size="18" x="890.90" y="632.00">Q3</text>
<rect x="928" y="615" width="9" height="22" fill="#d95f02" shape-rendering="crispEdges"/>
<rect x="937" y="634" width="8" height="3" fill="#1b9e77" shape-rendering="crispEdges"/>
<rect x="945" y="634" width="9" height="3" fill="#7570b3" shape-rendering="crispEdges"/>
</svg></body></html>
